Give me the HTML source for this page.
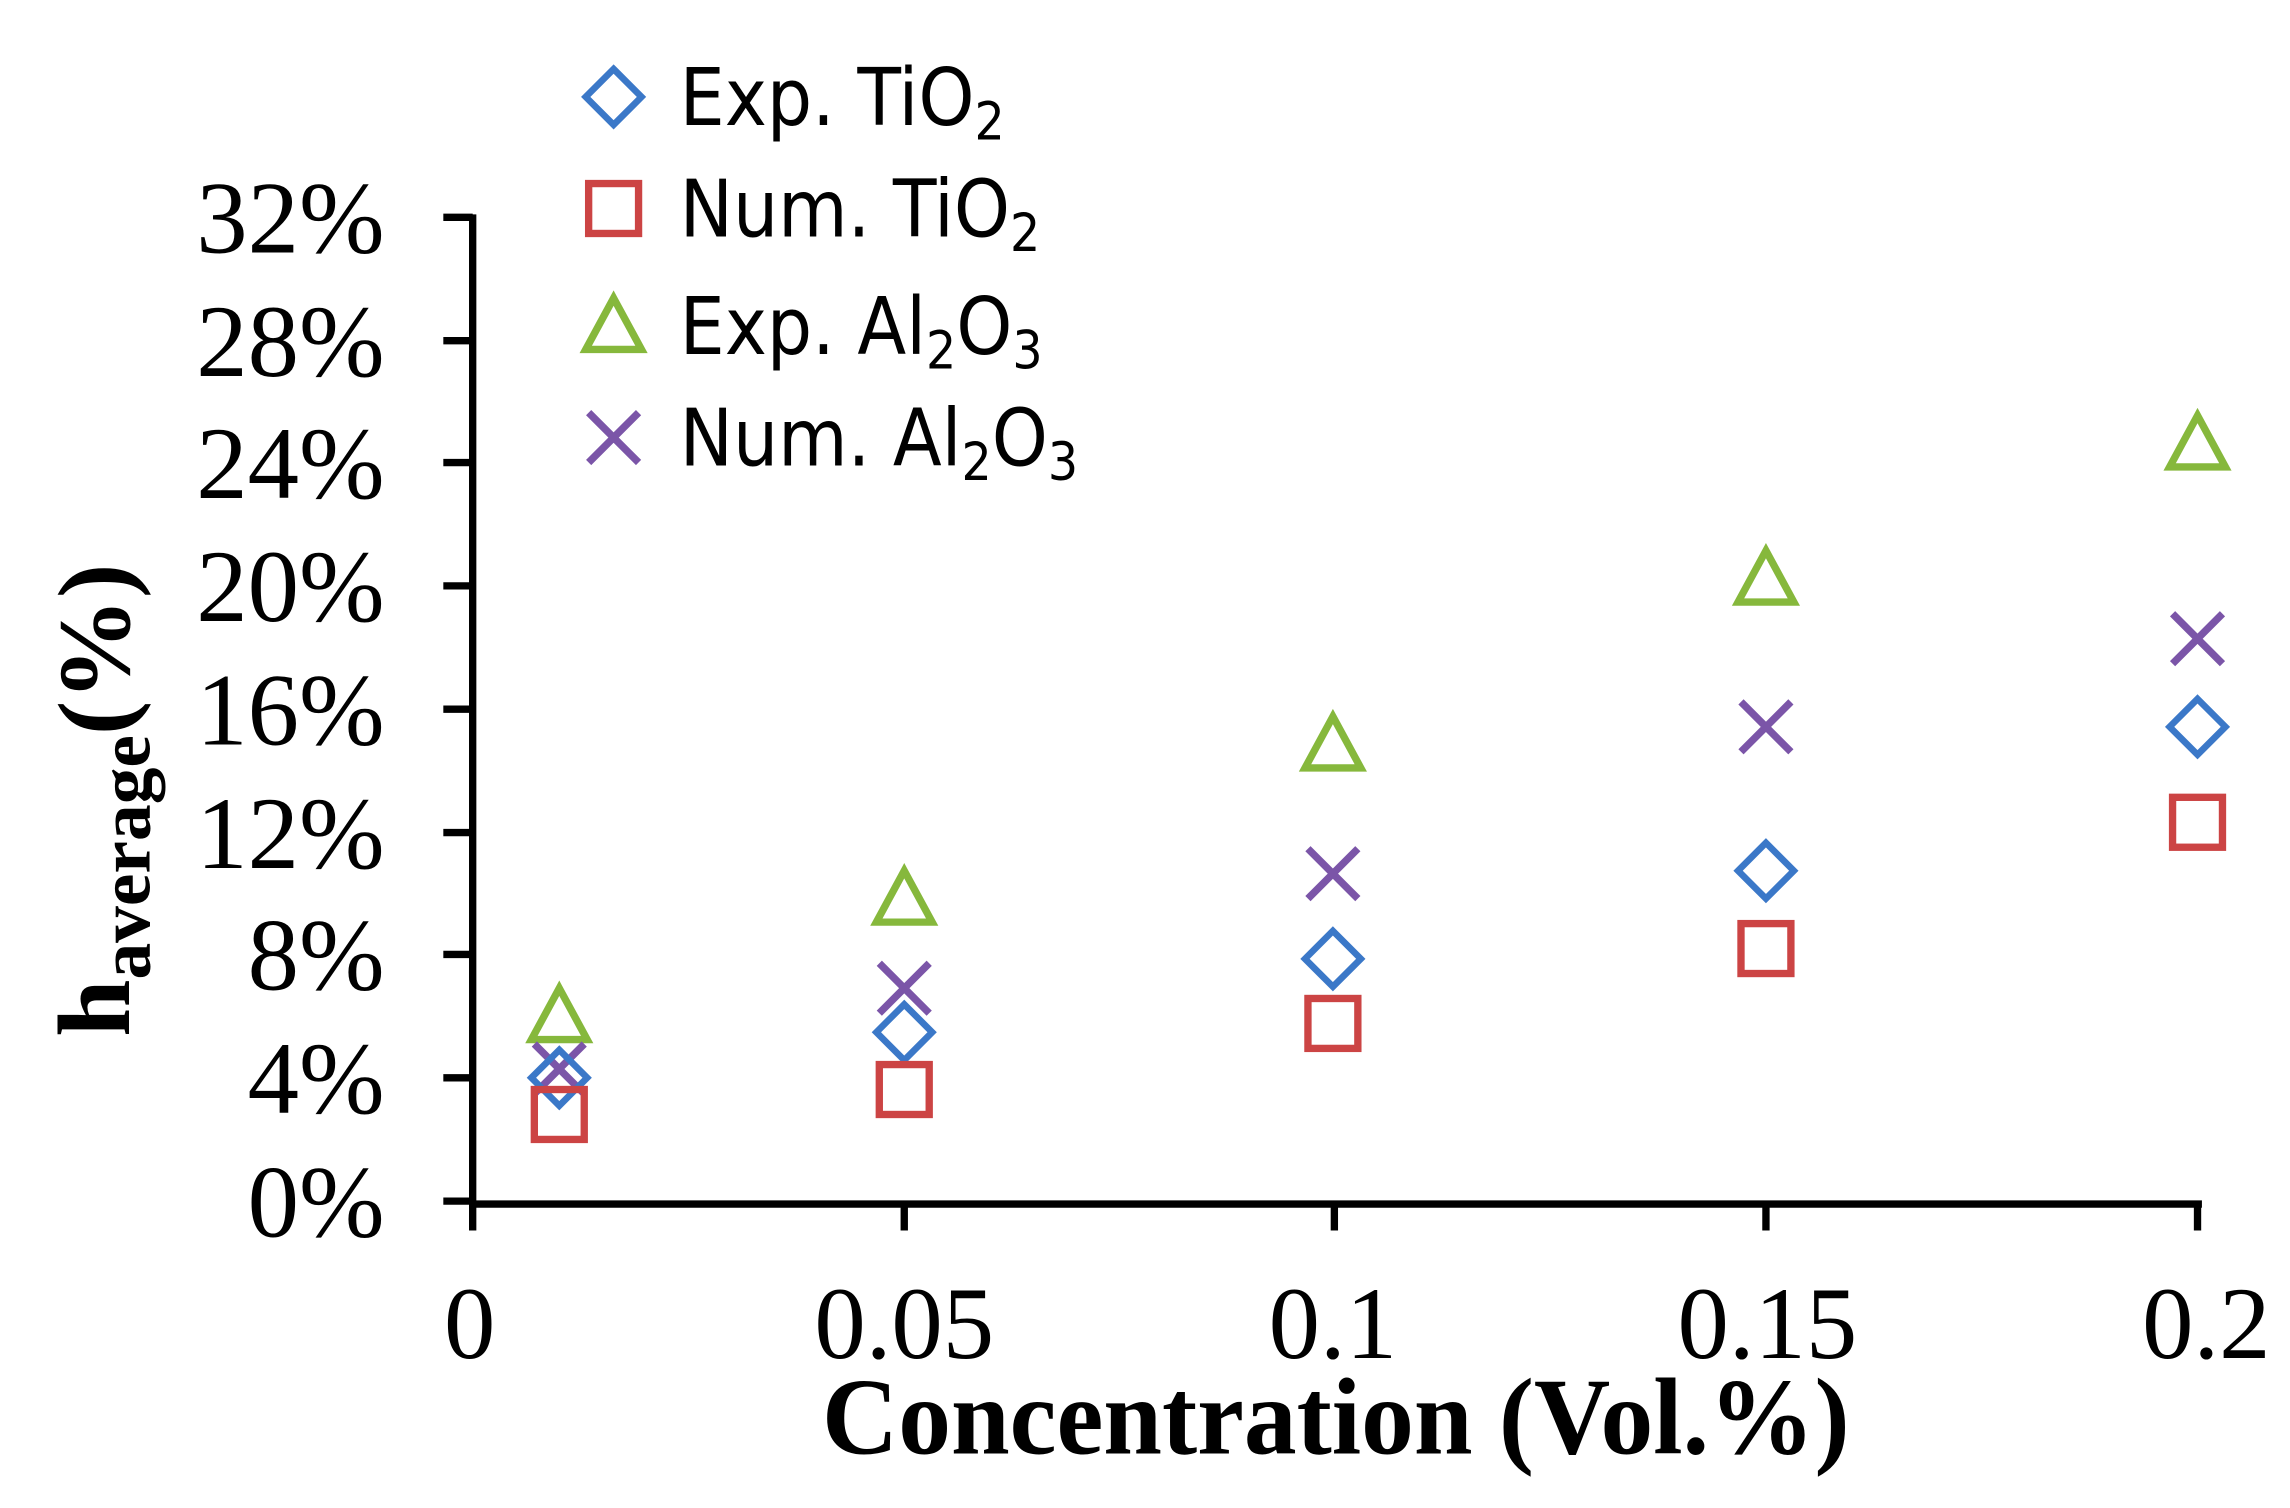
<!DOCTYPE html>
<html><head><meta charset="utf-8"><style>
html,body{margin:0;padding:0;background:#fff;}
svg{display:block}
.t{font-family:"Liberation Serif",serif;font-size:70px;fill:#000}
.l{font-family:"DejaVu Sans Condensed","Liberation Sans",sans-serif;font-size:54px;fill:#000}
</style></head><body>
<svg width="2290" height="1508" viewBox="0 0 1560 1027" preserveAspectRatio="none" xmlns="http://www.w3.org/2000/svg">
<defs>
<g id="d"><path d="M0,-19 L19,0 L0,19 L-19,0 Z" fill="none" stroke="#3b78c8" stroke-width="4.5"/></g>
<g id="s"><rect x="-17" y="-17" width="34" height="34" fill="none" stroke="#cc4444" stroke-width="5"/></g>
<g id="tr"><path d="M0,-19 L19,16 L-19,16 Z" fill="none" stroke="#86b83c" stroke-width="5"/></g>
<g id="x"><path d="M-17,-17 L17,17 M17,-17 L-17,17" fill="none" stroke="#7b55a8" stroke-width="5"/></g>
</defs>
<g stroke="#000" stroke-width="5" fill="none">
<path d="M322,146 L322,820 L1500,820"/>
<path d="M302,148H322M302,232H322M302,315H322M302,399H322M302,483H322M302,567H322M302,650H322M302,734H322M302,818H322"/>
<path d="M322,818V838M616,818V838M909,818V838M1203,818V838M1497,818V838"/>
</g>
<g class="t" text-anchor="end">
<text x="262" y="172">32%</text><text x="262" y="256">28%</text><text x="262" y="339">24%</text>
<text x="262" y="423">20%</text><text x="262" y="507">16%</text><text x="262" y="591">12%</text>
<text x="262" y="674">8%</text><text x="262" y="758">4%</text><text x="262" y="842">0%</text>
</g>
<g class="t" text-anchor="middle">
<text x="320" y="925">0</text><text x="616" y="925">0.05</text><text x="908" y="925">0.1</text>
<text x="1204" y="925">0.15</text><text x="1503" y="925">0.2</text>
<text x="910" y="990" font-weight="bold" font-size="74" textLength="700" lengthAdjust="spacingAndGlyphs">Concentration (Vol.%)</text>
</g>
<text class="t" transform="translate(88,545) rotate(-90)" text-anchor="middle" font-weight="bold" font-size="70">h<tspan font-size="50" dy="14">average</tspan><tspan dy="-14">(%)</tspan></text>
<use href="#d" x="418" y="66"/><use href="#s" x="418" y="142"/><use href="#tr" x="418" y="222"/><use href="#x" x="418" y="298"/>
<g class="l">
<text x="463" y="85">Exp. TiO<tspan font-size="36" dy="10">2</tspan></text>
<text x="463" y="161">Num. TiO<tspan font-size="36" dy="10">2</tspan></text>
<text x="463" y="241">Exp. Al<tspan font-size="36" dy="10">2</tspan><tspan dy="-10">O</tspan><tspan font-size="36" dy="10">3</tspan></text>
<text x="463" y="317">Num. Al<tspan font-size="36" dy="10">2</tspan><tspan dy="-10">O</tspan><tspan font-size="36" dy="10">3</tspan></text>
</g>
<use href="#tr" x="381" y="692"/><use href="#x" x="381" y="728"/><use href="#d" x="381" y="734"/><use href="#s" x="381" y="759"/>
<use href="#tr" x="616" y="612"/><use href="#x" x="616" y="673"/><use href="#d" x="616" y="703"/><use href="#s" x="616" y="742"/>
<use href="#tr" x="908" y="507"/><use href="#x" x="908" y="595"/><use href="#d" x="908" y="653"/><use href="#s" x="908" y="697"/>
<use href="#tr" x="1203" y="394"/><use href="#x" x="1203" y="495"/><use href="#d" x="1203" y="593"/><use href="#s" x="1203" y="646"/>
<use href="#tr" x="1497" y="302"/><use href="#x" x="1497" y="435"/><use href="#d" x="1497" y="495"/><use href="#s" x="1497" y="560"/>
</svg>
</body></html>
